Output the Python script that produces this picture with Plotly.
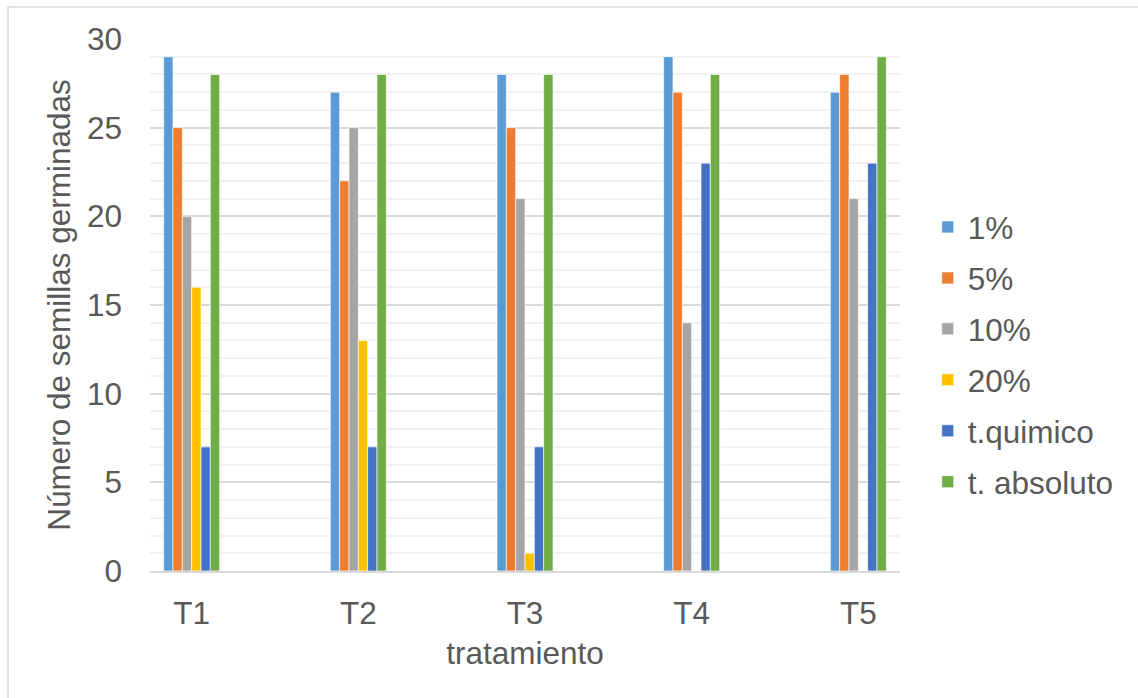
import plotly.graph_objects as go

# Germinated seeds per treatment and concentration
tratamientos = ["T1", "T2", "T3", "T4", "T5"]
serie_1 = [29, 27, 28, 29, 27]
serie_5 = [25, 22, 25, 27, 28]
serie_10 = [20, 25, 21, 14, 21]
serie_20 = [16, 13, 1, 0, 0]
t_quimico = [7, 7, 7, 23, 23]
t_absoluto = [28, 28, 28, 28, 29]

nombres = ["1%", "5%", "10%", "20%", "t.quimico", "t. absoluto"]
colores = ["#5B9BD5", "#ED7D31", "#A5A5A5", "#FFC000", "#4472C4", "#70AD47"]
valores = [serie_1, serie_5, serie_10, serie_20, t_quimico, t_absoluto]

FONT = "Liberation Sans, Arial, sans-serif"
TXT = "#595959"
FS = 31.5

fig = go.Figure()
for i, (nombre, color, vals) in enumerate(zip(nombres, colores, valores)):
    fig.add_trace(go.Bar(
        x=tratamientos, y=vals, name=nombre,
        marker=dict(color=color, line=dict(color="rgba(255,255,255,0.8)", width=0.8)),
        legendgroup=f"g{i}",
    ))

fig.update_layout(
    width=1138, height=698,
    margin=dict(l=150, r=238, t=39, b=127),
    paper_bgcolor="white", plot_bgcolor="white",
    barmode="group", bargap=0.664, bargroupgap=0,
    font=dict(family=FONT, size=FS, color=TXT),
    showlegend=True,
    legend=dict(
        x=1.037, xanchor="left", y=0.407, yanchor="middle",
        font=dict(family=FONT, size=FS, color=TXT),
        tracegroupgap=7, itemwidth=30,
        bgcolor="rgba(0,0,0,0)",
    ),
    xaxis=dict(
        range=[-0.25, 4.25], showgrid=False, zeroline=False,
        showline=True, linecolor="#D9D9D9", linewidth=1.5,
        ticks="", ticklabelstandoff=13,
        tickfont=dict(family=FONT, size=FS, color=TXT),
        title=dict(text="tratamiento", standoff=12,
                   font=dict(family=FONT, size=FS, color=TXT)),
    ),
    yaxis=dict(
        range=[0, 30], dtick=5, tick0=0,
        showgrid=True, gridcolor="#D9D9D9", gridwidth=1.5,
        zeroline=False, showline=False,
        ticks="", ticklabelstandoff=27,
        tickfont=dict(family=FONT, size=FS, color=TXT),
        minor=dict(dtick=1, showgrid=True, gridcolor="#F2F2F2", gridwidth=1.5),
        title=dict(text="Número de semillas germinadas", standoff=6,
                   font=dict(family=FONT, size=FS, color=TXT)),
    ),
    shapes=[dict(
        type="rect", xref="paper", yref="paper",
        x0=-0.1893, x1=1.35, y0=-0.30, y1=1.0602,
        line=dict(color="#D9D9D9", width=1.5), fillcolor="rgba(0,0,0,0)",
        layer="below",
    )],
)

fig.write_html("out.html")
